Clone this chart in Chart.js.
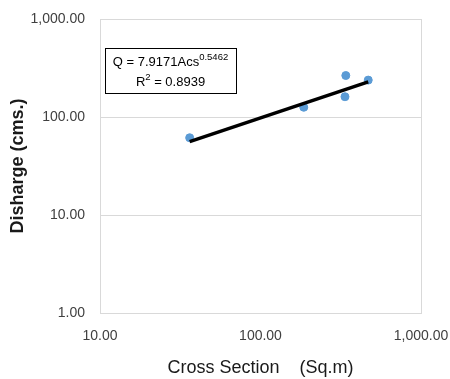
<!DOCTYPE html>
<html>
<head>
<meta charset="utf-8">
<script src="https://cdn.jsdelivr.net/npm/chart.js@4"></script>
<style>
  html, body { margin: 0; padding: 0; background: #fff; }
  #wrap { width: 450px; height: 379px; position: relative; }
</style>
</head>
<body>
<div id="wrap"><canvas id="chart"></canvas></div>
<script>
// values
const crossSection = [36.2, 186, 340, 336, 469];
const discharge = [61.4, 125.7, 265, 161, 238];
// trendline end points
const trendX = [36.2, 469];
const trendY = [56, 228];
const xTicks = [10, 100, 1000];
const yTicks = [1, 10, 100, 1000];
const equationText = 'Q = 7.9171Acs';
const exponentText = '0.5462';
const r2Text = ' = 0.8939';

const gridColor = '#d9d9d9';
const fmt = v => Number(v).toLocaleString('en-US', { minimumFractionDigits: 2, maximumFractionDigits: 2 });

// box with the fit equation, drawn after the chart
const equationBox = {
    id: 'equationBox',
    afterDraw(chart) {
        const ctx = chart.ctx;
        const a = chart.chartArea;
        const x0 = a.left + 5, y0 = a.top + 29, w = 131, h = 45;
        ctx.save();
        ctx.fillStyle = '#fff';
        ctx.fillRect(x0, y0, w, h);
        ctx.strokeStyle = '#000';
        ctx.lineWidth = 1;
        ctx.strokeRect(x0 + 0.5, y0 + 0.5, w, h);

        ctx.fillStyle = '#000';
        ctx.textBaseline = 'alphabetic';
        const big = '13px "Liberation Sans", Arial, sans-serif';
        const small = '9.5px "Liberation Sans", Arial, sans-serif';
        const cx = x0 + w / 2;

        // line 1: Q = 7.9171Acs^0.5462
        ctx.font = big;
        const w1 = ctx.measureText(equationText).width;
        ctx.font = small;
        const w2 = ctx.measureText(exponentText).width;
        let sx = cx - (w1 + w2) / 2;
        ctx.font = big;
        ctx.fillText(equationText, sx, y0 + 18);
        ctx.font = small;
        ctx.fillText(exponentText, sx + w1, y0 + 12);

        // line 2: R² = 0.8939
        ctx.font = big;
        const wr = ctx.measureText('R').width;
        ctx.font = small;
        const ws = ctx.measureText('2').width;
        ctx.font = big;
        const wv = ctx.measureText(r2Text).width;
        sx = cx - (wr + ws + wv) / 2;
        ctx.fillText('R', sx, y0 + 38);
        ctx.font = small;
        ctx.fillText('2', sx + wr, y0 + 32);
        ctx.font = big;
        ctx.fillText(r2Text, sx + wr + ws, y0 + 38);
        ctx.restore();
    }
};

const ctx = document.getElementById('chart').getContext('2d');
new Chart(ctx, {
    type: 'scatter',
    data: {
        datasets: [
            {
                label: 'Power trend',
                type: 'line',
                data: trendX.map((x, i) => ({ x: x, y: trendY[i] })),
                borderColor: '#000',
                borderWidth: 3.5,
                pointRadius: 0,
                fill: false,
                order: 0
            },
            {
                label: 'Discharge',
                data: crossSection.map((x, i) => ({ x: x, y: discharge[i] })),
                backgroundColor: '#5b9bd5',
                borderColor: '#5b9bd5',
                pointRadius: 4,
                order: 1
            }
        ]
    },
    options: {
        responsive: true,
        maintainAspectRatio: false,
        animation: false,
        layout: { padding: { left: 0, right: 29, top: 19, bottom: 0 } },
        plugins: {
            legend: { display: false },
            tooltip: { enabled: false }
        },
        scales: {
            x: {
                type: 'logarithmic',
                min: 10,
                max: 1000,
                afterBuildTicks: s => { s.ticks = xTicks.map(v => ({ value: v })); },
                afterFit: s => {
                    s.height = 66;
                    s.paddingLeft = 0;
                    s.paddingRight = 0;
                },
                grid: {
                    color: c => (c.tick && c.tick.value === 1000 ? gridColor : 'rgba(0,0,0,0)'),
                    drawTicks: false
                },
                border: { display: true, color: gridColor },
                ticks: {
                    padding: 15,
                    color: '#404040',
                    font: { family: '"Liberation Sans", Arial, sans-serif', size: 14 },
                    maxRotation: 0,
                    callback: v => fmt(v)
                },
                title: {
                    display: true,
                    text: 'Cross Section    (Sq.m)',
                    color: '#1a1a1a',
                    font: { family: '"Liberation Sans", Arial, sans-serif', size: 18 },
                    padding: { top: 0, bottom: 0 }
                }
            },
            y: {
                type: 'logarithmic',
                min: 1,
                max: 1000,
                afterBuildTicks: s => { s.ticks = yTicks.map(v => ({ value: v })); },
                afterFit: s => {
                    s.width = 100;
                    s.paddingTop = 0;
                    s.paddingBottom = 0;
                },
                grid: { color: gridColor, drawTicks: false },
                border: { display: true, color: gridColor },
                ticks: {
                    padding: 15,
                    color: '#404040',
                    font: { family: '"Liberation Sans", Arial, sans-serif', size: 14 },
                    callback: v => fmt(v)
                },
                title: {
                    display: true,
                    text: 'Disharge (cms.)',
                    color: '#1a1a1a',
                    font: { family: '"Liberation Sans", Arial, sans-serif', size: 18, weight: 'bold' },
                    padding: { top: 7, bottom: 0 }
                }
            }
        }
    },
    plugins: [equationBox]
});
</script>
</body>
</html>
